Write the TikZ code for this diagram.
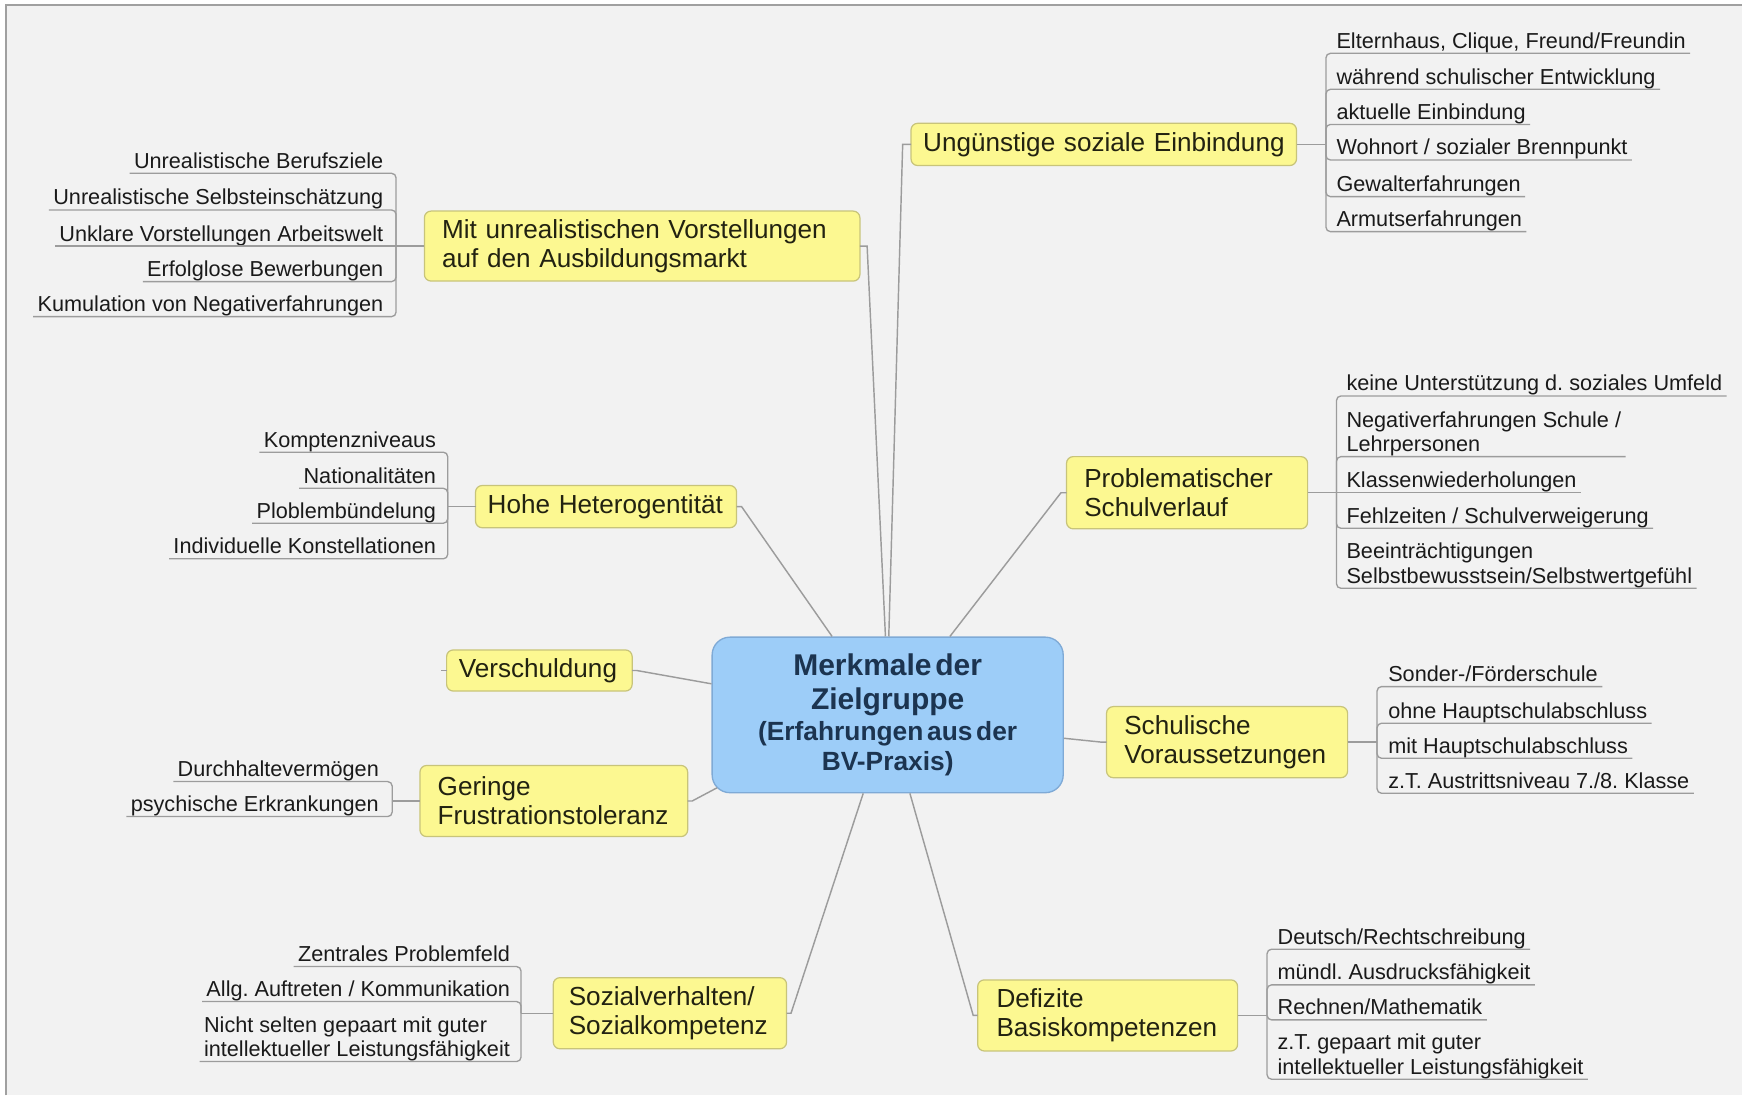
\documentclass[tikz,border=0pt]{standalone}
\usepackage{fontspec}
\setmainfont{Liberation Sans}
\definecolor{bgcol}{HTML}{F2F2F2}
\definecolor{framecol}{HTML}{A0A0A0}
\definecolor{topicfill}{HTML}{FCF891}
\definecolor{topicborder}{HTML}{C8C47A}
\definecolor{topictext}{HTML}{222211}
\definecolor{centerfill}{HTML}{9DCDF8}
\definecolor{centerborder}{HTML}{7FAAD6}
\definecolor{centertext}{HTML}{1C3450}
\definecolor{linegray}{HTML}{9C9C9C}
\definecolor{leaftext}{HTML}{1A1A1A}
\newcommand{\twoline}[2]{\begin{tabular}[b]{@{}l@{}}#1\\#2\end{tabular}}
\frenchspacing
\begin{document}
\frenchspacing
\begin{tikzpicture}[x=1pt,y=-1pt,
  leaf/.style={font=\fontsize{19.5}{22}\selectfont\frenchspacing, text=leaftext, inner xsep=4pt, inner ysep=0pt, outer sep=0pt, text height=14pt, text depth=4.5pt},
  leafL/.style={leaf, anchor=south east},
  leafR/.style={leaf, anchor=south west},
  topic/.style={draw=topicborder, fill=topicfill, line width=1.1pt, rounded corners=6pt, font=\fontsize{23.5}{26}\selectfont, text=topictext, align=left, inner ysep=0pt, outer sep=0pt},
  conn/.style={draw=linegray, line width=1.3pt},
  leafline/.style={draw=linegray, line width=1.2pt, rounded corners=4pt},
]
\useasboundingbox (0,0) rectangle (1568,986);
\fill[white] (0,0) rectangle (1568,986);
\fill[bgcol] (5.5,4.5) rectangle (1568,986);
\draw[framecol, line width=1.5pt] (5.5,986) -- (5.5,4.5) -- (1568,4.5);

% central node
\node[draw=centerborder, fill=centerfill, line width=1.2pt, rounded corners=16pt,
      minimum width=316pt, minimum height=140pt, text width=300pt, align=center,
      inner sep=0pt, text=centertext, font=\bfseries] (c) at (799,643.5)
  {{\fontsize{27}{31}\selectfont Merkmale der\\Zielgruppe\par}{\fontsize{23.7}{27.5}\selectfont (Erfahrungen aus der\\BV-Praxis)\par}};

% topics
\node[topic, minimum height=63pt, text width=360pt, inner xsep=16pt] (t1) at (578,221.5)
  {\mbox{Mit unrealistischen Vorstellungen}\\\mbox{auf den Ausbildungsmarkt}};
\node[topic, minimum height=38pt, text width=325pt, inner xsep=11pt] (t2) at (993.5,130)
  {\mbox{Ungünstige soziale Einbindung}};
\node[topic, minimum height=38pt, text width=213pt, inner xsep=11pt] (t3) at (545.5,456)
  {\mbox{Hohe Heterogentität}};
\node[topic, minimum height=65pt, text width=185pt, inner xsep=16pt] (t4) at (1068.5,443.5)
  {\mbox{Problematischer}\\\mbox{Schulverlauf}};
\node[topic, minimum height=37pt, text width=145pt, inner xsep=11pt] (t5) at (485.5,603.5)
  {\mbox{Verschuldung}};
\node[topic, minimum height=64pt, text width=185pt, inner xsep=16pt] (t6) at (1104.5,668)
  {\mbox{Schulische}\\\mbox{Voraussetzungen}};
\node[topic, minimum height=64pt, text width=209pt, inner xsep=16pt] (t7) at (498.5,721)
  {\mbox{Geringe}\\\mbox{Frustrationstoleranz}};
\node[topic, minimum height=64pt, text width=182pt, inner xsep=14pt] (t8) at (603,912)
  {\mbox{Sozialverhalten/}\\\mbox{Sozialkompetenz}};
\node[topic, minimum height=64pt, text width=200pt, inner xsep=17pt] (t9) at (997,914)
  {\mbox{Defizite}\\\mbox{Basiskompetenzen}};

% connectors center -> topics
\draw[conn] (t1.east) -- ++(6.5,0) -- ([xshift=-2pt]c.north);
\draw[conn] (t2.west) -- ++(-7.5,0) -- ([xshift=1pt]c.north);
\draw[conn] (t3.east) -- ++(4.5,0) -- ([xshift=-50pt]c.north);
\draw[conn] (t4.west) -- ++(-5,0) -- ([xshift=56pt]c.north);
\draw[conn] (t5.east) -- ++(4,0) -- ([yshift=28pt]c.west);
\draw[conn] (t5.west) -- ++(-5,0);
\draw[conn] (t6.west) -- ++(-4.5,0) -- ([yshift=-21pt]c.east);
\draw[conn] (t7.east) -- ++(4,0) -- ([xshift=5pt,yshift=5pt]c.south west);
\draw[conn] (t8.east) -- ++(4,0) -- ([xshift=-22pt]c.south);
\draw[conn] (t9.west) -- ++(-4,0) -- ([xshift=20pt]c.south);

% group 1
\node[leafL] (l11) at (349,156) {Unrealistische Berufsziele};
\node[leafL] (l12) at (349,189) {Unrealistische Selbsteinschätzung};
\node[leafL] (l13) at (349,221.5) {Unklare Vorstellungen Arbeitswelt};
\node[leafL] (l14) at (349,253.5) {Erfolglose Bewerbungen};
\node[leafL] (l15) at (349,285) {Kumulation von Negativerfahrungen};
\coordinate (j1) at (356.5,221.5);
\draw[conn] (t1.west) -- (j1);
\draw[leafline] (j1) -- (l13.south west);
\foreach \n in {l11,l12,l14,l15} \draw[leafline] (j1) |- (\n.south west);

% group 2
\node[leafR] (l21) at (1199,48) {Elternhaus, Clique, Freund/Freundin};
\node[leafR] (l22) at (1199,80.4) {während schulischer Entwicklung};
\node[leafR] (l23) at (1199,112) {aktuelle Einbindung};
\node[leafR] (l24) at (1199,144) {Wohnort / sozialer Brennpunkt};
\node[leafR] (l25) at (1199,177) {Gewalterfahrungen};
\node[leafR] (l26) at (1199,208.5) {Armutserfahrungen};
\coordinate (j2) at (1193.5,130);
\draw[conn] (t2.east) -- (j2);
\foreach \n in {l21,l22,l23,l24,l25,l26} \draw[leafline] (j2) |- (\n.south east);

% group 3
\node[leafL] (l31) at (396.5,407) {Komptenzniveaus};
\node[leafL] (l32) at (396.5,439.5) {Nationalitäten};
\node[leafL] (l33) at (396.5,471) {Ploblembündelung};
\node[leafL] (l34) at (396.5,503) {Individuelle Konstellationen};
\coordinate (j3) at (403,456);
\draw[conn] (t3.west) -- (j3);
\foreach \n in {l31,l32,l33,l34} \draw[leafline] (j3) |- (\n.south west);

% group 4
\node[leafR] (l41) at (1208,356.4) {keine Unterstützung d. soziales Umfeld};
\node[leafR] (l42) at (1208,411) {\twoline{Negativerfahrungen Schule /}{Lehrpersonen}};
\node[leafR] (l43) at (1208,443.5) {Klassenwiederholungen};
\node[leafR] (l44) at (1208,475.5) {Fehlzeiten / Schulverweigerung};
\node[leafR] (l45) at (1208,529.5) {\twoline{Beeinträchtigungen}{Selbstbewusstsein/Selbstwertgefühl}};
\coordinate (j4) at (1203,443.5);
\draw[conn] (t4.east) -- (j4);
\draw[leafline] (j4) -- (l43.south east);
\foreach \n in {l41,l42,l44,l45} \draw[leafline] (j4) |- (\n.south east);

% group 6
\node[leafR] (l61) at (1245.6,618) {Sonder-/Förderschule};
\node[leafR] (l62) at (1245.6,651) {ohne Hauptschulabschluss};
\node[leafR] (l63) at (1245.6,682.5) {mit Hauptschulabschluss};
\node[leafR] (l64) at (1245.6,714) {z.T. Austrittsniveau 7./8. Klasse};
\coordinate (j6) at (1239.5,668);
\draw[conn] (t6.east) -- (j6);
\foreach \n in {l61,l62,l63,l64} \draw[leafline] (j6) |- (\n.south east);

% group 7
\node[leafL] (l71) at (345,703.5) {Durchhaltevermögen};
\node[leafL] (l72) at (345,735) {psychische Erkrankungen};
\coordinate (j7) at (353,721);
\draw[conn] (t7.west) -- (j7);
\foreach \n in {l71,l72} \draw[leafline] (j7) |- (\n.south west);

% group 8
\node[leafL] (l81) at (463,870) {Zentrales Problemfeld};
\node[leafL] (l82) at (463,901.5) {Allg. Auftreten / Kommunikation};
\node[leafL] (l83) at (463,955.5) {\twoline{Nicht selten gepaart mit guter}{intellektueller Leistungsfähigkeit}};
\coordinate (j8) at (469,912);
\draw[conn] (t8.west) -- (j8);
\foreach \n in {l81,l82,l83} \draw[leafline] (j8) |- (\n.south west);

% group 9
\node[leafR] (l91) at (1146,854.4) {Deutsch/Rechtschreibung};
\node[leafR] (l92) at (1146,886.5) {mündl. Ausdrucksfähigkeit};
\node[leafR] (l93) at (1146,918) {Rechnen/Mathematik};
\node[leafR] (l94) at (1146,971.4) {\twoline{z.T. gepaart mit guter}{intellektueller Leistungsfähigkeit}};
\coordinate (j9) at (1140.5,914);
\draw[conn] (t9.east) -- (j9);
\foreach \n in {l91,l92,l93,l94} \draw[leafline] (j9) |- (\n.south east);
\end{tikzpicture}
\end{document}
